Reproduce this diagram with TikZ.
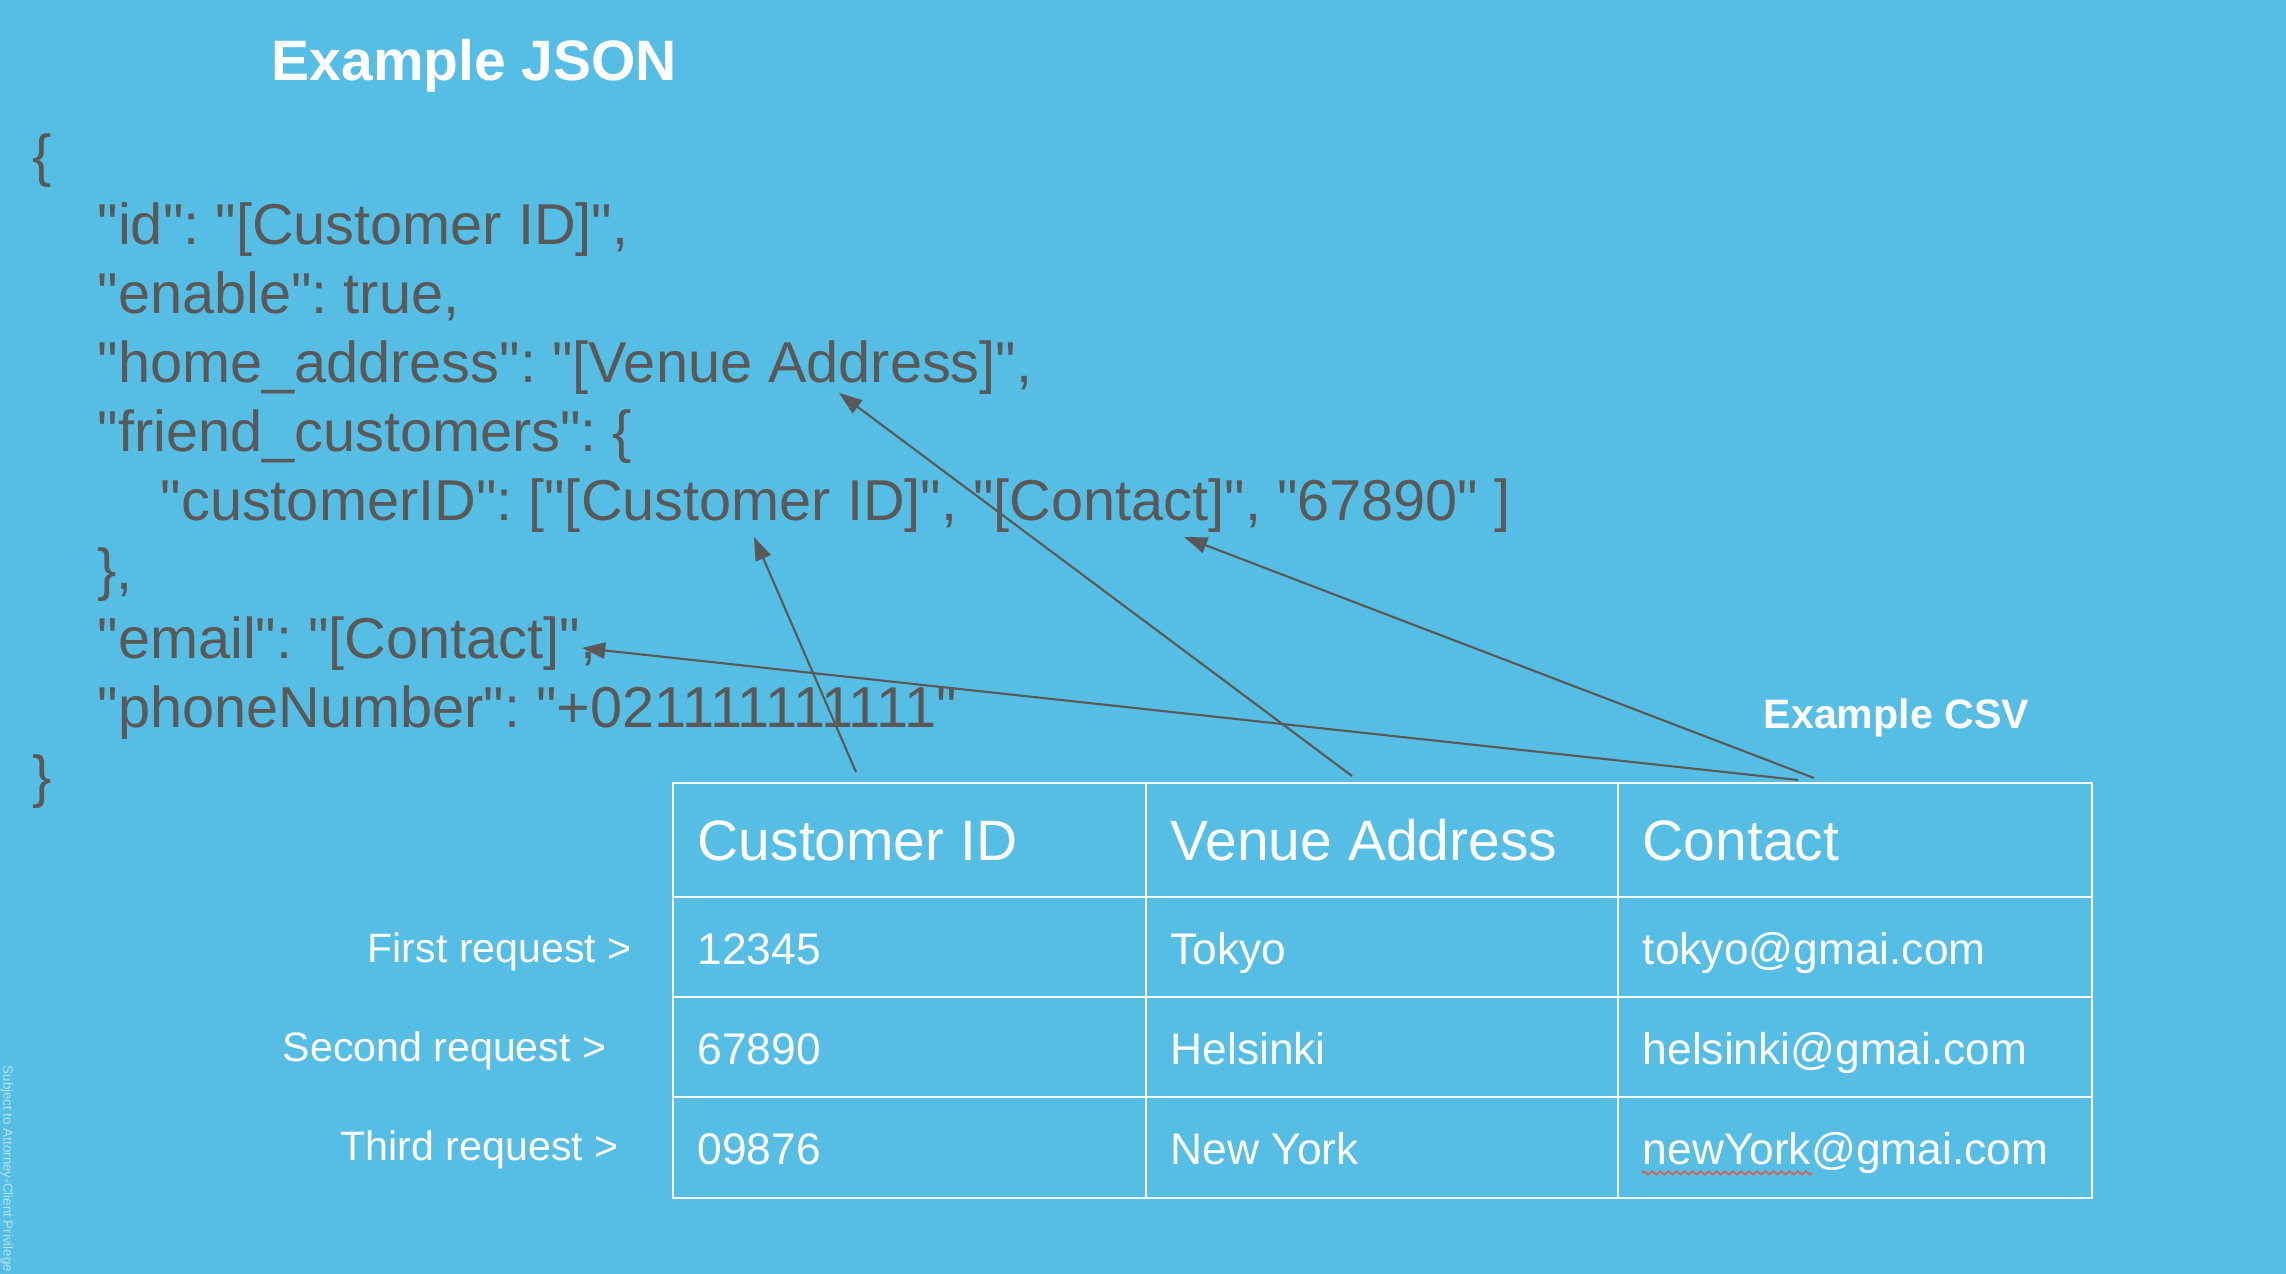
\documentclass[tikz,border=0pt]{standalone}
\usepackage{fontspec}
\newfontfamily\slidefont{Liberation Sans}
\frenchspacing
\usetikzlibrary{arrows.meta,decorations.pathmorphing}
\definecolor{slide}{RGB}{86,190,228}
\definecolor{ink}{RGB}{89,89,89}
\definecolor{spell}{RGB}{214,96,86}
\begin{document}
\begin{tikzpicture}[x=0.01cm,y=-0.01cm,
code/.style ={anchor=base west, inner sep=0pt, text=ink,
  font=\slidefont\fontsize{16.4}{19}\selectfont
},
title/.style ={anchor=base west, inner sep=0pt, text=white,
  font=\slidefont\bfseries\fontsize{16.2}{19}\selectfont
},
subtitle/.style ={anchor=base west, inner sep=0pt, text=white,
  font=\slidefont\bfseries\fontsize{11.7}{14}\selectfont
},
head/.style ={anchor=base west, inner sep=0pt, text=white,
  font=\slidefont\fontsize{16.2}{19}\selectfont
},
cell/.style ={anchor=base west, inner sep=0pt, text=white,
  font=\slidefont\fontsize{12.6}{15}\selectfont
},
req/.style ={anchor=base west, inner sep=0pt, text=white,
  font=\slidefont\fontsize{11.7}{14}\selectfont
},
grid/.style ={draw=white, line width=0.75pt},
link/.style ={draw=ink, line width=0.6pt,
  -{Triangle[length=6.6pt,width=4.6pt]}
},
squiggle/.style ={draw=spell, line width=0.45pt,
  decorate, decoration={zigzag, segment length=2.3pt, amplitude=0.5pt}
}]
\fill[slide] (0,0) rectangle (2286,1274);
\useasboundingbox (0,0) rectangle (2286,1274);
\node (privilege) at (0,1065) [rotate=-90, anchor=south west, inner sep=0pt,
  text=white!55!slide, font=\slidefont\fontsize{3.8}{5}\selectfont] {Subject to Attorney-Client Privilege};

\node (json) at (271,81) [title] {Example JSON};
\node (j0) at (32,176) [code] {\{};
\node (j1) at (97,245) [code] {"id": "[Customer ID]",};
\node (j2) at (97,314) [code] {"enable": true,};
\node (j3) at (97,383) [code] {"home\_address": "[Venue Address]",};
\node (j4) at (97,452) [code] {"friend\_customers": \{};
\node (j5) at (160,521) [code] {"customerID": ["[Customer ID]", "[Contact]", "67890" ]};
\node (j6) at (97,590) [code] {\},};
\node (j7) at (97,659) [code] {"email": "[Contact]",};
\node (j8) at (97,728) [code] {"phoneNumber": "+021111111111"};
\node (j9) at (32,797) [code] {\}};

\node (csv) at (1763,729) [subtitle] {Example CSV};
\draw[grid] (673,783) rectangle (2092,1198);
\draw[grid] (1146,783) -- (1146,1198) (1618,783) -- (1618,1198);
\draw[grid] (673,897) -- (2092,897) (673,997) -- (2092,997) (673,1097) -- (2092,1097);

\node (h1) at (697,860) [head] {Customer ID};
\node (h2) at (1170,860) [head] {Venue Address};
\node (h3) at (1642,860) [head] {Contact};
\node (c11) at (697,964) [cell] {12345};
\node (c12) at (1170,964) [cell] {Tokyo};
\node (c13) at (1642,964) [cell] {tokyo@gmai.com};
\node (c21) at (697,1064) [cell] {67890};
\node (c22) at (1170,1064) [cell] {Helsinki};
\node (c23) at (1642,1064) [cell] {helsinki@gmai.com};
\node (c31) at (697,1164) [cell] {09876};
\node (c32) at (1170,1164) [cell] {New York};
\node (c33) at (1642,1164) [cell] {newYork@gmai.com};
\draw[squiggle] (c33.base west) ++(0,9) -- ++(170,0);

\node (r1) at (367,962) [req] {First request >};
\node (r2) at (282,1061) [req] {Second request >};
\node (r3) at (340,1160) [req] {Third request >};

\coordinate (idTail) at (856,772);
\coordinate (idTip) at (754,537);
\coordinate (venueTail) at (1352,776);
\coordinate (venueTip) at (839,393);
\coordinate (listTail) at (1814,778);
\coordinate (listTip) at (1184,537);
\coordinate (mailTail) at (1798,780);
\coordinate (mailTip) at (582,648);
\draw[link] (idTail) -- (idTip);
\draw[link] (venueTail) -- (venueTip);
\draw[link] (listTail) -- (listTip);
\draw[link] (mailTail) -- (mailTip);
\end{tikzpicture}
\end{document}
